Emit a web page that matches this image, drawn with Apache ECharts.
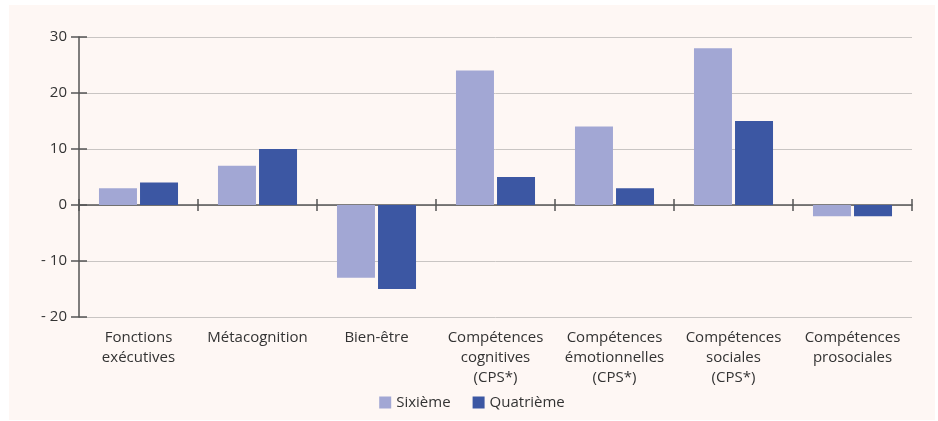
<!DOCTYPE html>
<html>
<head>
<meta charset="utf-8">
<script src="https://cdn.jsdelivr.net/npm/echarts@6/dist/echarts.min.js"></script>
<style>
  html, body { margin: 0; padding: 0; background: #FFFFFF; }
  #chart { position: absolute; left: 9px; top: 5px; width: 926px; height: 415px; }
</style>
</head>
<body>
<div id="chart"></div>
<script>
// données
var categories = ['Fonctions\nexécutives', 'Métacognition', 'Bien-être', 'Compétences\ncognitives\n(CPS*)',
  'Compétences\némotionnelles\n(CPS*)', 'Compétences\nsociales\n(CPS*)', 'Compétences\nprosociales'];
var sixieme = [3, 7, -13, 24, 14, 28, -2];
var quatrieme = [4, 10, -15, 5, 3, 15, -2];
var yTicks = [-20, -10, 0, 10, 20, 30];

var font = 'Open Sans';
var chart = echarts.init(document.getElementById('chart'));
var option = {
  backgroundColor: '#FEF7F4',
  textStyle: { fontFamily: font },
  grid: { left: 70, right: 23, top: 32, bottom: 103 },
  legend: {
    bottom: 5,
    left: 'center',
    itemWidth: 12,
    itemHeight: 12,
    itemGap: 22,
    icon: 'rect',
    textStyle: { fontFamily: font, fontSize: 15, color: '#333333' },
    data: ['Sixième', 'Quatrième']
  },
  xAxis: [
    {
      type: 'category',
      data: categories,
      position: 'bottom',
      axisLine: { onZero: true, lineStyle: { color: '#555555', width: 1.5 } },
      axisTick: { show: true, length: 6, lineStyle: { color: '#555555', width: 1.5 } },
      axisLabel: { show: false }
    },
    {
      type: 'category',
      data: categories,
      position: 'bottom',
      axisLine: { show: false, onZero: true },
      axisTick: { show: true, inside: true, length: 6, lineStyle: { color: '#555555', width: 1.5 } },
      axisLabel: { show: false }
    },
    {
      type: 'category',
      data: categories,
      position: 'bottom',
      axisLine: { show: false, onZero: false },
      axisTick: { show: false },
      axisLabel: { interval: 0, margin: 11, fontSize: 15, lineHeight: 20, color: '#333333', fontFamily: font }
    }
  ],
  yAxis: [
    {
      type: 'value',
      min: -20,
      max: 30,
      interval: 10,
      axisLine: { show: true, lineStyle: { color: '#555555', width: 1.5 } },
      axisTick: { show: true, length: 8, lineStyle: { color: '#555555', width: 1.5 } },
      splitLine: { lineStyle: { color: '#C9C5C3', width: 1 } },
      axisLabel: {
        margin: 12,
        fontSize: 15,
        color: '#333333',
        fontFamily: font,
        formatter: function (v) {
          if (yTicks.indexOf(v) < 0) return '';
          return v < 0 ? '- ' + Math.abs(v) : String(v);
        }
      }
    },
    {
      type: 'value',
      min: -20,
      max: 30,
      interval: 10,
      position: 'left',
      axisLine: { show: false },
      axisTick: { show: true, inside: true, length: 8, lineStyle: { color: '#555555', width: 1.5 } },
      splitLine: { show: false },
      axisLabel: { show: false }
    }
  ],
  series: [
    {
      name: 'Sixième',
      type: 'bar',
      data: sixieme,
      barWidth: 38,
      barGap: '8%',
      itemStyle: { color: '#A2A7D4' }
    },
    {
      name: 'Quatrième',
      type: 'bar',
      data: quatrieme,
      barWidth: 38,
      barGap: '8%',
      itemStyle: { color: '#3C57A3' }
    }
  ]
};
chart.setOption(option);
</script>
</body>
</html>
